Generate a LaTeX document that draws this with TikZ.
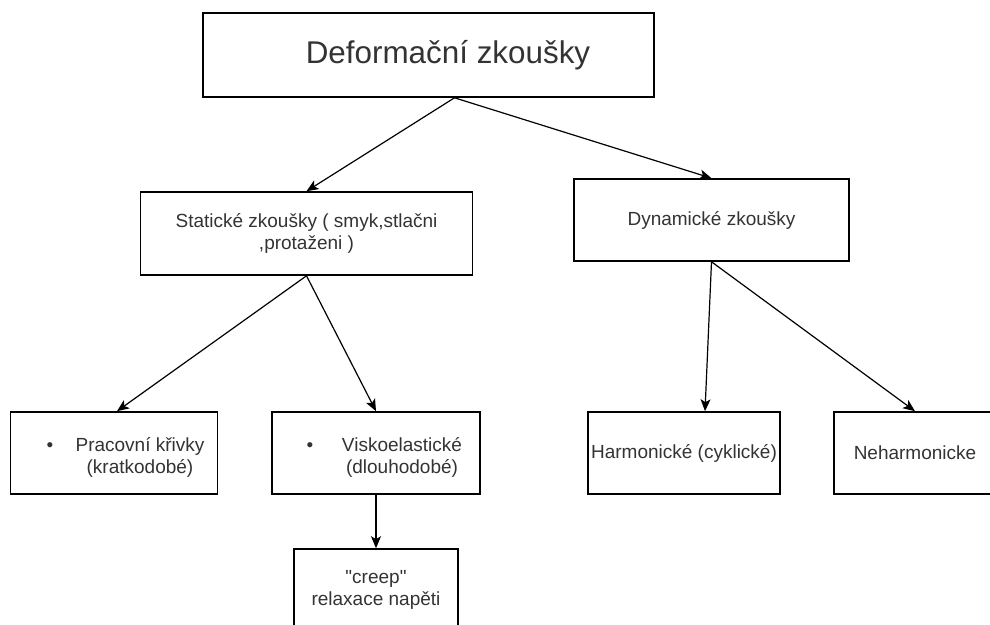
\documentclass[tikz,border=0pt]{standalone}
\usepackage{fontspec}
\setmainfont{Liberation Sans}
\usetikzlibrary{arrows.meta}
\definecolor{txtgray}{HTML}{333333}
\begin{document}
\begin{tikzpicture}[
        x=0.5pt, y=-0.5pt,
        box/.style 2 args={draw, line width=0.8pt, minimum width=#1*0.5pt, minimum height=#2*0.5pt, inner sep=0pt},
        lbl/.style={text=txtgray, font=\fontsize{9.5}{11}\selectfont, align=center, inner sep=0pt},
        arr/.style={-{Stealth[length=6pt,width=5pt,inset=1.5pt]}, line width=0.6pt}
    ]
    \useasboundingbox (0,0) rectangle (990,625);
    \clip (0,0) rectangle (990,625);
    \node[box={451}{84}] (defo) at (428.5,55) {};
    \node[lbl, font=\fontsize{15.7}{18}\selectfont] (defot) at (448,55) {Deformační zkoušky};
    \node[box={332}{83}, lbl] (stat) at (306.5,233.5) {Statické zkoušky ( smyk,stlačni\\,protaženi )};
    \node[box={275}{82}, lbl] (dyn) at (711.5,220) {Dynamické zkoušky};
    \node[box={207}{82}] (prac) at (114,453) {};
    \node[lbl] (pracb) at (50,447) {•};
    \node[lbl] (pract) at (140,457) {Pracovní křivky\\(kratkodobé)};
    \node[box={208}{82}] (visk) at (376,453) {};
    \node[lbl] (viskb) at (310,447) {•};
    \node[lbl] (viskt) at (402,457) {Viskoelastické\\(dlouhodobé)};
    \node[box={164}{82}, lbl] (creep) at (376,590) {\textquotedbl creep\textquotedbl\\relaxace napěti};
    \node[box={192}{82}, lbl] (harm) at (684,453) {Harmonické (cyklické)};
    \node[box={162}{82}, lbl] (neh) at (915,453) {Neharmonicke};
    \draw[arr] ([xshift=13pt]defo.south) -- (stat.north);
    \draw[arr] ([xshift=13pt]defo.south) -- (dyn.north);
    \draw[arr] (stat.south) -- ([xshift=1.5pt]prac.north);
    \draw[arr] (stat.south) -- (visk.north);
    \draw[arr] (dyn.south) -- ([xshift=10.5pt]harm.north);
    \draw[arr] (dyn.south) -- (neh.north);
    \draw[arr] (visk.south) -- (creep.north);
\end{tikzpicture}
\end{document}
